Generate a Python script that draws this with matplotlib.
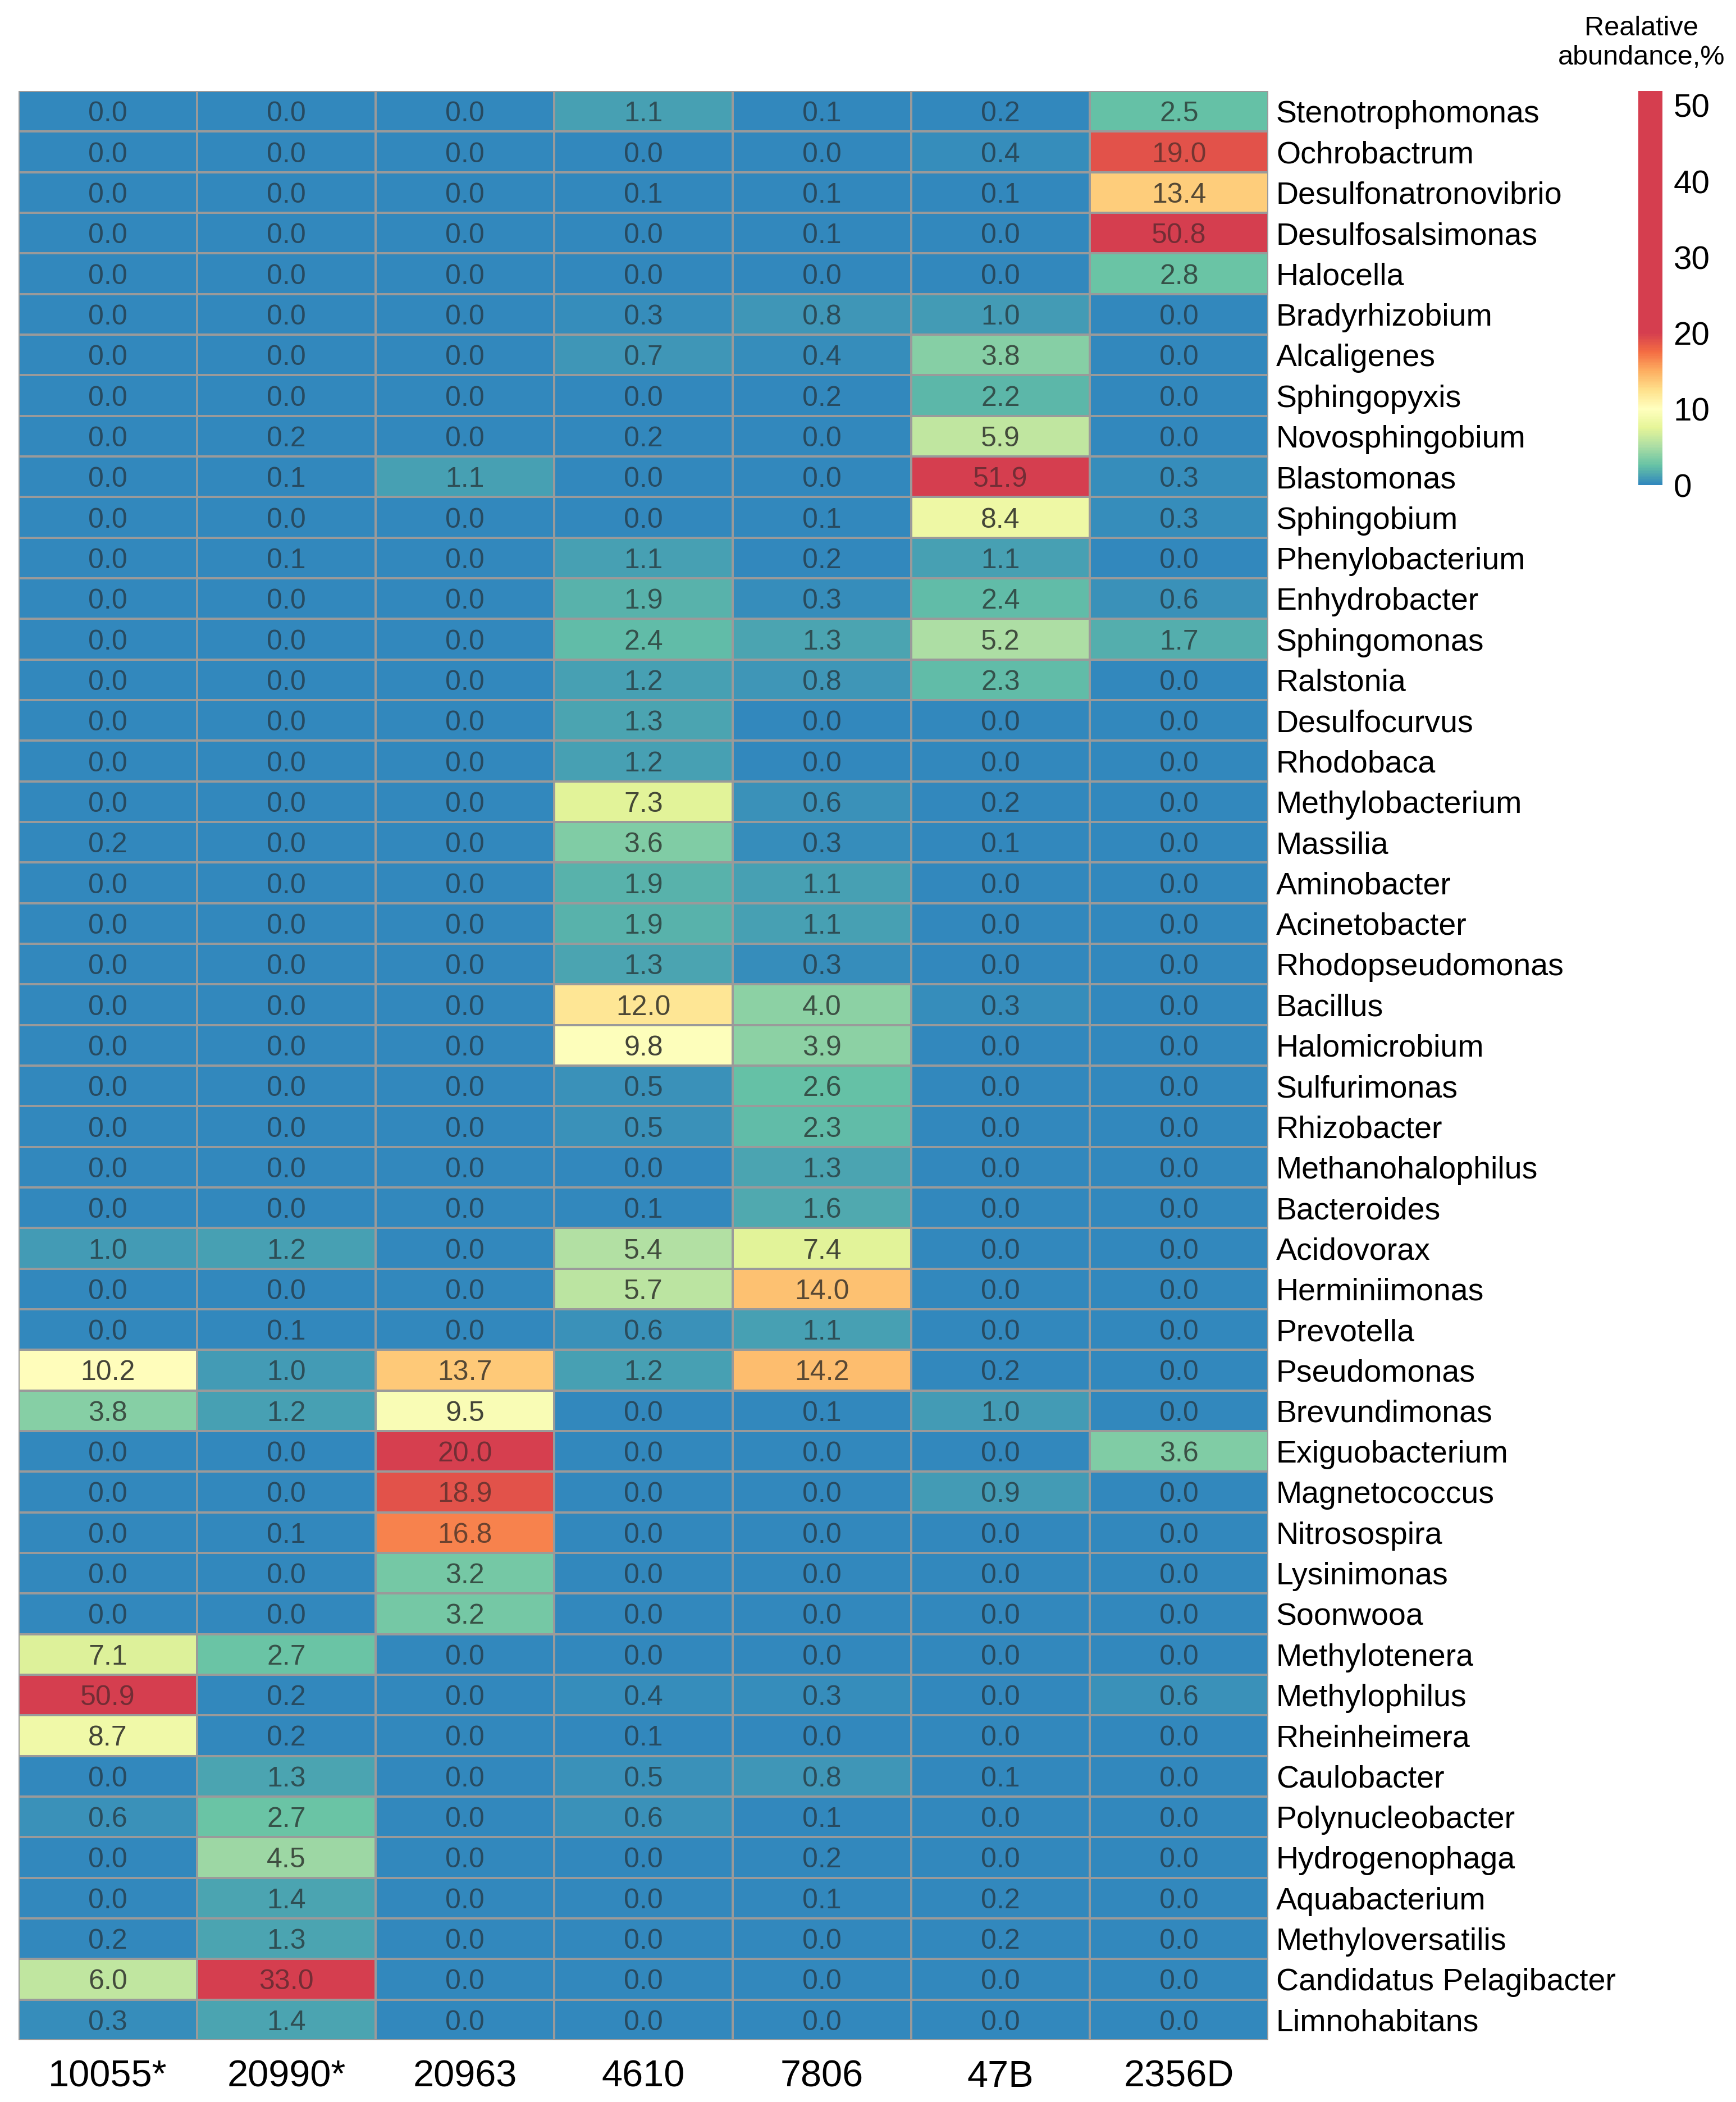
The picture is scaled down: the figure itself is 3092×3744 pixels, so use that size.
import numpy as np
import matplotlib
matplotlib.use("Agg")
import matplotlib.pyplot as plt
from matplotlib.colors import LinearSegmentedColormap, Normalize

plt.rcParams['font.family'] = ['Liberation Sans', 'DejaVu Sans']

muestras = ["10055*", "20990*", "20963", "4610", "7806", "47B", "2356D"]

generos = [
    "Stenotrophomonas", "Ochrobactrum", "Desulfonatronovibrio", "Desulfosalsimonas",
    "Halocella", "Bradyrhizobium", "Alcaligenes", "Sphingopyxis", "Novosphingobium",
    "Blastomonas", "Sphingobium", "Phenylobacterium", "Enhydrobacter", "Sphingomonas",
    "Ralstonia", "Desulfocurvus", "Rhodobaca", "Methylobacterium", "Massilia",
    "Aminobacter", "Acinetobacter", "Rhodopseudomonas", "Bacillus", "Halomicrobium",
    "Sulfurimonas", "Rhizobacter", "Methanohalophilus", "Bacteroides", "Acidovorax",
    "Herminiimonas", "Prevotella", "Pseudomonas", "Brevundimonas", "Exiguobacterium",
    "Magnetococcus", "Nitrosospira", "Lysinimonas", "Soonwooa", "Methylotenera",
    "Methylophilus", "Rheinheimera", "Caulobacter", "Polynucleobacter", "Hydrogenophaga",
    "Aquabacterium", "Methyloversatilis", "Candidatus Pelagibacter", "Limnohabitans",
]

# abundancia relativa (%) por muestra, en el orden de 'generos'
ab_10055 = [0.0, 0.0, 0.0, 0.0, 0.0, 0.0, 0.0, 0.0, 0.0, 0.0, 0.0, 0.0,
            0.0, 0.0, 0.0, 0.0, 0.0, 0.0, 0.2, 0.0, 0.0, 0.0, 0.0, 0.0,
            0.0, 0.0, 0.0, 0.0, 1.0, 0.0, 0.0, 10.2, 3.8, 0.0, 0.0, 0.0,
            0.0, 0.0, 7.1, 50.9, 8.7, 0.0, 0.6, 0.0, 0.0, 0.2, 6.0, 0.3]
ab_20990 = [0.0, 0.0, 0.0, 0.0, 0.0, 0.0, 0.0, 0.0, 0.2, 0.1, 0.0, 0.1,
            0.0, 0.0, 0.0, 0.0, 0.0, 0.0, 0.0, 0.0, 0.0, 0.0, 0.0, 0.0,
            0.0, 0.0, 0.0, 0.0, 1.2, 0.0, 0.1, 1.0, 1.2, 0.0, 0.0, 0.1,
            0.0, 0.0, 2.7, 0.2, 0.2, 1.3, 2.7, 4.5, 1.4, 1.3, 33.0, 1.4]
ab_20963 = [0.0, 0.0, 0.0, 0.0, 0.0, 0.0, 0.0, 0.0, 0.0, 1.1, 0.0, 0.0,
            0.0, 0.0, 0.0, 0.0, 0.0, 0.0, 0.0, 0.0, 0.0, 0.0, 0.0, 0.0,
            0.0, 0.0, 0.0, 0.0, 0.0, 0.0, 0.0, 13.7, 9.5, 20.0, 18.9, 16.8,
            3.2, 3.2, 0.0, 0.0, 0.0, 0.0, 0.0, 0.0, 0.0, 0.0, 0.0, 0.0]
ab_4610 = [1.1, 0.0, 0.1, 0.0, 0.0, 0.3, 0.7, 0.0, 0.2, 0.0, 0.0, 1.1,
           1.9, 2.4, 1.2, 1.3, 1.2, 7.3, 3.6, 1.9, 1.9, 1.3, 12.0, 9.8,
           0.5, 0.5, 0.0, 0.1, 5.4, 5.7, 0.6, 1.2, 0.0, 0.0, 0.0, 0.0,
           0.0, 0.0, 0.0, 0.4, 0.1, 0.5, 0.6, 0.0, 0.0, 0.0, 0.0, 0.0]
ab_7806 = [0.1, 0.0, 0.1, 0.1, 0.0, 0.8, 0.4, 0.2, 0.0, 0.0, 0.1, 0.2,
           0.3, 1.3, 0.8, 0.0, 0.0, 0.6, 0.3, 1.1, 1.1, 0.3, 4.0, 3.9,
           2.6, 2.3, 1.3, 1.6, 7.4, 14.0, 1.1, 14.2, 0.1, 0.0, 0.0, 0.0,
           0.0, 0.0, 0.0, 0.3, 0.0, 0.8, 0.1, 0.2, 0.1, 0.0, 0.0, 0.0]
ab_47B = [0.2, 0.4, 0.1, 0.0, 0.0, 1.0, 3.8, 2.2, 5.9, 51.9, 8.4, 1.1,
          2.4, 5.2, 2.3, 0.0, 0.0, 0.2, 0.1, 0.0, 0.0, 0.0, 0.3, 0.0,
          0.0, 0.0, 0.0, 0.0, 0.0, 0.0, 0.0, 0.2, 1.0, 0.0, 0.9, 0.0,
          0.0, 0.0, 0.0, 0.0, 0.0, 0.1, 0.0, 0.0, 0.2, 0.2, 0.0, 0.0]
ab_2356D = [2.5, 19.0, 13.4, 50.8, 2.8, 0.0, 0.0, 0.0, 0.0, 0.3, 0.3, 0.0,
            0.6, 1.7, 0.0, 0.0, 0.0, 0.0, 0.0, 0.0, 0.0, 0.0, 0.0, 0.0,
            0.0, 0.0, 0.0, 0.0, 0.0, 0.0, 0.0, 0.0, 0.0, 3.6, 0.0, 0.0,
            0.0, 0.0, 0.0, 0.6, 0.0, 0.0, 0.0, 0.0, 0.0, 0.0, 0.0, 0.0]

datos = np.array([ab_10055, ab_20990, ab_20963, ab_4610, ab_7806, ab_47B, ab_2356D]).T
n_filas, n_cols = datos.shape

# paleta tipo Spectral: azul -> verde -> amarillo -> naranja -> rojo (saturada desde 20 %)
VMAX = datos.max()
nodos = [0, 2.5, 5, 7.5, 10, 12.5, 15, 17.5, 20, VMAX]
colores = ['#3288bd', '#66c2a5', '#abdda4', '#e6f598', '#ffffbf',
           '#fee08b', '#fdae61', '#f46d43', '#d53e4f', '#d53e4f']
cmap = LinearSegmentedColormap.from_list('abundancia', list(zip([n / VMAX for n in nodos], colores)))
norm = Normalize(vmin=0, vmax=VMAX)

fig = plt.figure(figsize=(30.92, 37.44), dpi=100)
ax = fig.add_axes([0.0107, 0.0294, 0.7199, 0.9273])

malla = ax.pcolormesh(datos, cmap=cmap, norm=norm, edgecolors='#9a9a9a', linewidth=1.5)
ax.set_xlim(0, n_cols)
ax.set_ylim(n_filas, 0)

# valores dentro de cada celda, texto oscuro mezclado con el color de fondo
for i in range(n_filas):
    for j in range(n_cols):
        v = datos[i, j]
        r, g, b, _ = cmap(norm(v))
        lum = 0.2126 * r + 0.7152 * g + 0.0722 * b
        t = 0.35 + 0.5 * lum
        col = tuple((1 - t) * c + t * 0.12 for c in (r, g, b))
        ax.text(j + 0.5, i + 0.5, f"{v:.1f}", ha='center', va='center_baseline',
                fontsize=36, color=col)

ax.set_xticks(np.arange(n_cols) + 0.5)
ax.set_xticklabels(muestras, fontsize=48)
ax.yaxis.tick_right()
ax.set_yticks(np.arange(n_filas) + 0.5)
ax.set_yticklabels(generos, fontsize=40, va='center_baseline')
ax.tick_params(axis='x', length=0, pad=25)
ax.tick_params(axis='y', length=0, pad=10)
for s in ax.spines.values():
    s.set_visible(False)

cax = fig.add_axes([0.9437, 0.7692, 0.0139, 0.1875])
cb = fig.colorbar(malla, cax=cax, ticks=[0, 10, 20, 30, 40, 50])
cb.outline.set_visible(False)
cax.tick_params(length=0, pad=14, labelsize=42)

fig.text(0.9455, 0.9795, "Realative\nabundance,%", ha='center', va='center',
         fontsize=35, linespacing=1.2)

fig.savefig("out.png", dpi=100)
plt.close(fig)
